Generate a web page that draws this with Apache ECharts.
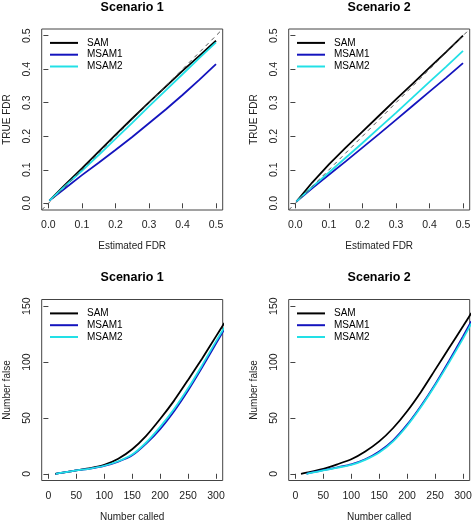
<!DOCTYPE html>
<html><head><meta charset="utf-8">
<script src="https://cdn.jsdelivr.net/npm/echarts@6/dist/echarts.min.js"></script>
<style>html,body{margin:0;padding:0;background:#fff}#c{width:472px;height:529px}</style>
</head><body><div id="c"></div>
<script>
// ---------- data ----------
const seriesNames = ['SAM', 'MSAM1', 'MSAM2'];
const panelTitles = ['Scenario 1', 'Scenario 2', 'Scenario 1', 'Scenario 2'];
const fdrTicks = [0, 0.1, 0.2, 0.3, 0.4, 0.5];
const calledTicks = [0, 50, 100, 150, 200, 250, 300];
const falseTicks = [0, 50, 100, 150];

// top panels: Estimated FDR vs TRUE FDR
const estFDR = [0.003, 0.05, 0.1, 0.15, 0.2, 0.25, 0.3, 0.35, 0.4, 0.45, 0.5];
const sc1_SAM   = [0.008, 0.056, 0.104, 0.154, 0.204, 0.253, 0.301, 0.348, 0.395, 0.440, 0.485];
const sc1_MSAM1 = [0.008, 0.045, 0.084, 0.121, 0.159, 0.198, 0.239, 0.280, 0.323, 0.368, 0.415];
const sc1_MSAM2 = [0.008, 0.052, 0.097, 0.144, 0.192, 0.240, 0.289, 0.337, 0.385, 0.433, 0.480];
const sc2_SAM   = [0.005, 0.062, 0.116, 0.166, 0.214, 0.262, 0.310, 0.357, 0.405, 0.452, 0.500];
const sc2_MSAM1 = [0.005, 0.045, 0.085, 0.125, 0.166, 0.207, 0.249, 0.291, 0.333, 0.375, 0.418];
const sc2_MSAM2 = [0.005, 0.049, 0.092, 0.136, 0.180, 0.225, 0.270, 0.316, 0.362, 0.408, 0.455];
const diagX = [-0.02, 0.52];
const diagY = [-0.02, 0.52];

// bottom panels: Number called vs Number false
const called1_SAM  = [12, 25, 50, 75, 100, 125, 150, 175, 200, 225, 250, 275, 300, 315];
const called1_MSAM = [13, 25, 50, 75, 100, 125, 150, 175, 200, 225, 250, 275, 300, 315];
const nf1_SAM   = [0, 1, 3, 5, 8, 13.5, 22, 34, 49, 65.5, 84, 103, 123, 135];
const nf1_MSAM1 = [0, 1, 3, 4.6, 7, 10.8, 16.5, 27, 40, 56, 74.5, 95, 116.5, 129.5];
const nf1_MSAM2 = [0, 1, 3, 4.7, 7.2, 11.2, 17.2, 28, 42, 58, 76.5, 97, 118.5, 131];
const called2_SAM  = [10, 25, 50, 75, 100, 125, 150, 175, 200, 225, 250, 275, 300, 315];
const called2_MSAM = [20, 30, 50, 75, 100, 125, 150, 175, 200, 225, 250, 275, 300, 315];
const nf2_SAM   = [0, 1.5, 4.5, 8.5, 13, 20, 29, 41, 56, 73.5, 93, 112.5, 132, 144];
const nf2_MSAM1 = [0, 1.2, 3.2, 5.8, 8.5, 13, 20, 30, 44, 61, 80, 101, 123, 136.5];
const nf2_MSAM2 = [0, 1.0, 3.0, 5.5, 8, 12.5, 19, 29, 43, 60, 79, 99.5, 121, 134.5];

// ---------- styling / layout ----------
const FONT = 'Liberation Sans, Arial, Helvetica, sans-serif';
const colors = { SAM: '#000000', MSAM1: '#1414BE', MSAM2: '#22E0E6' };
const zip = (xs, ys) => xs.map((x, i) => [x, ys[i]]);

const panels = [
  { left: 41.7, top: 29, xMin: -0.02, xMax: 0.52, yMin: -0.02, yMax: 0.52, xTicks: fdrTicks, yTicks: fdrTicks,
    xName: 'Estimated FDR', yName: 'TRUE FDR', fmt: v => v.toFixed(1), smooth: false,
    lines: [zip(estFDR, sc1_SAM), zip(estFDR, sc1_MSAM1), zip(estFDR, sc1_MSAM2)], diag: true },
  { left: 288.7, top: 29, xMin: -0.02, xMax: 0.52, yMin: -0.02, yMax: 0.52, xTicks: fdrTicks, yTicks: fdrTicks,
    xName: 'Estimated FDR', yName: 'TRUE FDR', fmt: v => v.toFixed(1), smooth: false,
    lines: [zip(estFDR, sc2_SAM), zip(estFDR, sc2_MSAM1), zip(estFDR, sc2_MSAM2)], diag: true },
  { left: 41.7, top: 299.5, xMin: -12, xMax: 312, yMin: -6, yMax: 156, xTicks: calledTicks, yTicks: falseTicks,
    xName: 'Number called', yName: 'Number false', fmt: v => String(v), smooth: 0.2,
    lines: [zip(called1_SAM, nf1_SAM), zip(called1_MSAM, nf1_MSAM1), zip(called1_MSAM, nf1_MSAM2)], diag: false },
  { left: 288.7, top: 299.5, xMin: -12, xMax: 312, yMin: -6, yMax: 156, xTicks: calledTicks, yTicks: falseTicks,
    xName: 'Number called', yName: 'Number false', fmt: v => String(v), smooth: 0.2,
    lines: [zip(called2_SAM, nf2_SAM), zip(called2_MSAM, nf2_MSAM1), zip(called2_MSAM, nf2_MSAM2)], diag: false }
];
const BOX = 181;
const axisColor = '#444';
const textColor = '#222';

const option = {
  animation: false,
  backgroundColor: '#ffffff',
  title: [], grid: [], xAxis: [], yAxis: [], legend: [], series: []
};

panels.forEach((p, i) => {
  option.title.push({
    text: panelTitles[i], left: p.left + BOX / 2, top: p.top - 28, textAlign: 'center', padding: 0,
    textStyle: { fontFamily: FONT, fontSize: 12.5, fontWeight: 'bold', color: '#000' }
  });
  option.grid.push({
    left: p.left, top: p.top, width: BOX, height: BOX, show: true,
    borderColor: axisColor, borderWidth: 1, backgroundColor: 'transparent',
    containLabel: false, outerBoundsMode: 'none'
  });
  option.xAxis.push({
    type: 'value', gridIndex: i, min: p.xMin, max: p.xMax,
    splitLine: { show: false }, axisLine: { show: false },
    axisTick: { show: true, length: 5, customValues: p.xTicks, lineStyle: { color: axisColor } },
    axisLabel: { customValues: p.xTicks, formatter: p.fmt, margin: 10, fontFamily: FONT, fontSize: 10.5, color: textColor },
    name: p.xName, nameLocation: 'middle', nameGap: 31.5,
    nameTextStyle: { fontFamily: FONT, fontSize: 10, color: textColor }
  });
  option.yAxis.push({
    type: 'value', gridIndex: i, min: p.yMin, max: p.yMax,
    splitLine: { show: false }, axisLine: { show: false },
    axisTick: { show: true, length: 5, customValues: p.yTicks, lineStyle: { color: axisColor } },
    axisLabel: { customValues: p.yTicks, formatter: p.fmt, rotate: 90, margin: 9, fontFamily: FONT, fontSize: 10.5, color: textColor },
    name: p.yName, nameLocation: 'middle', nameGap: 29.5, nameRotate: 90,
    nameTextStyle: { fontFamily: FONT, fontSize: 10, color: textColor }
  });
  option.legend.push({
    left: p.left + 8.3, top: p.top + 8, orient: 'vertical', padding: 0,
    itemWidth: 28, itemHeight: 2, itemGap: 0, icon: 'rect',
    selectedMode: false,
    data: seriesNames,
    textStyle: { fontFamily: FONT, fontSize: 10, color: '#000', lineHeight: 11.8, padding: [0, 0, 0, 4] }
  });
  seriesNames.forEach((n, k) => {
    option.series.push({
      type: 'line', name: n, xAxisIndex: i, yAxisIndex: i, data: p.lines[k],
      showSymbol: false, smooth: p.smooth, clip: true,
      color: colors[n], lineStyle: { color: colors[n], width: 1.8 }, z: 3 + k
    });
  });
  if (p.diag) {
    option.series.push({
      type: 'line', name: 'diag', xAxisIndex: i, yAxisIndex: i, data: zip(diagX, diagY),
      showSymbol: false, silent: true, clip: true, z: 10,
      lineStyle: { color: '#555', width: 1, type: [4, 4] }
    });
  }
});

const chart = echarts.init(document.getElementById('c'), null, { renderer: 'canvas' });
chart.setOption(option);
</script>
</body></html>
